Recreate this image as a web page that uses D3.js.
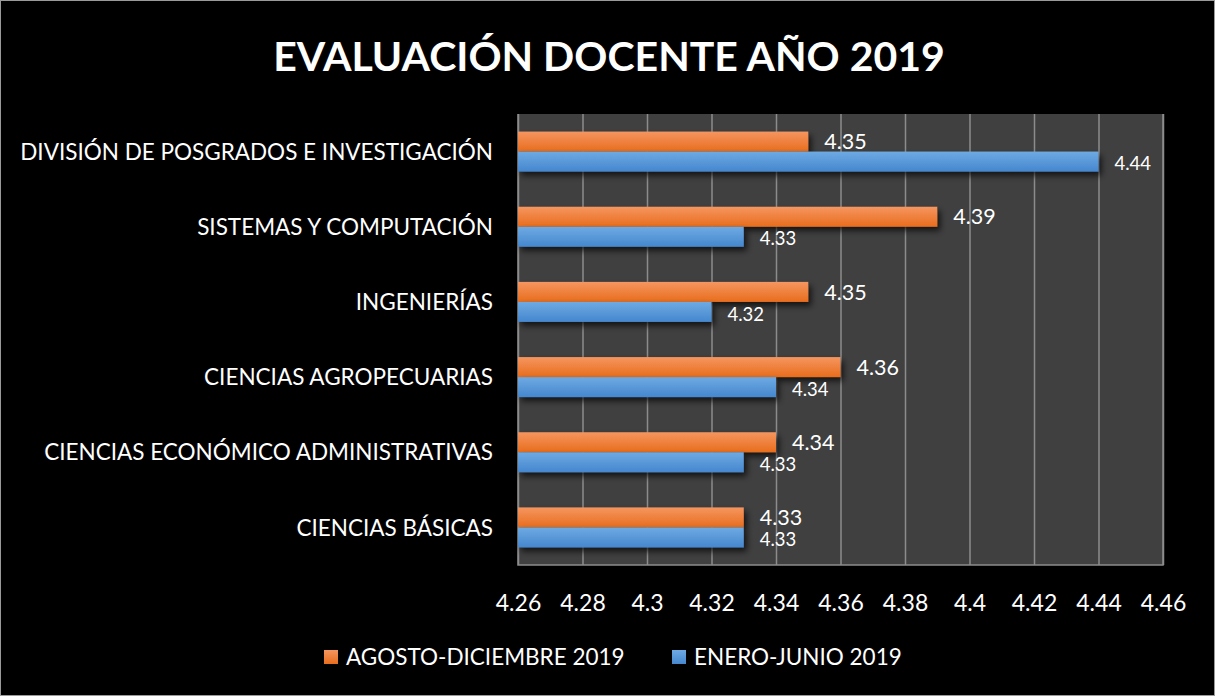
<!DOCTYPE html>
<html>
<head>
<meta charset="utf-8">
<script src="https://cdn.jsdelivr.net/npm/d3@7"></script>
<style>
  html, body { margin: 0; padding: 0; background: #000; }
  svg { display: block; }
  text { font-family: Lato, "Open Sans", sans-serif; fill: #fff; }
</style>
</head>
<body>
<svg id="chart" width="1215" height="696"></svg>
<script>
// ---- data ----
const categories = [
  "DIVISIÓN DE POSGRADOS E INVESTIGACIÓN",
  "SISTEMAS Y COMPUTACIÓN",
  "INGENIERÍAS",
  "CIENCIAS AGROPECUARIAS",
  "CIENCIAS ECONÓMICO ADMINISTRATIVAS",
  "CIENCIAS BÁSICAS"
];
const seriesNames = ["AGOSTO-DICIEMBRE 2019", "ENERO-JUNIO 2019"];
const agostoDiciembre = [4.35, 4.39, 4.35, 4.36, 4.34, 4.33];
const eneroJunio = [4.44, 4.33, 4.32, 4.34, 4.33, 4.33];
const xTicks = [4.26, 4.28, 4.30, 4.32, 4.34, 4.36, 4.38, 4.40, 4.42, 4.44, 4.46];
const title = "EVALUACIÓN DOCENTE AÑO 2019";

// ---- layout ----
const W = 1215, H = 696;
const plot = { left: 518, right: 1163, top: 114, bottom: 565 };

const svg = d3.select("#chart");
const defs = svg.append("defs");

function grad(id, top, bottom) {
  const g = defs.append("linearGradient").attr("id", id)
    .attr("x1", 0).attr("y1", 0).attr("x2", 0).attr("y2", 1);
  g.append("stop").attr("offset", "0%").attr("stop-color", top);
  g.append("stop").attr("offset", "100%").attr("stop-color", bottom);
}
grad("gOrange", "#f59660", "#e86d1c");
grad("gBlue", "#6eaae3", "#4587ce");

const f = defs.append("filter").attr("id", "shadow")
  .attr("x", "-5%").attr("y", "-30%").attr("width", "115%").attr("height", "190%");
f.append("feDropShadow").attr("dx", 3).attr("dy", 4).attr("stdDeviation", 3)
  .attr("flood-color", "#000").attr("flood-opacity", 0.7);

svg.append("rect").attr("x", 0.5).attr("y", 0.5).attr("width", W - 1).attr("height", H - 1)
  .attr("fill", "#000").attr("stroke", "#9a9a9a").attr("stroke-width", 1);

// title
svg.append("text").attr("x", 609).attr("y", 71).attr("text-anchor", "middle")
  .style("font-size", "41px").style("font-weight", "bold").text(title);

const x = d3.scaleLinear().domain([4.26, 4.46]).range([plot.left, plot.right]);
const y = d3.scaleBand().domain(categories).range([plot.top, plot.bottom])
  .paddingInner(0.468).paddingOuter(0.234);
const sub = d3.scaleBand().domain(seriesNames).range([0, y.bandwidth()]);

// plot background
svg.append("rect").attr("x", plot.left).attr("y", plot.top)
  .attr("width", plot.right - plot.left).attr("height", plot.bottom - plot.top)
  .attr("fill", "#404040");

// grid
const gridG = svg.append("g").attr("transform", `translate(0,${plot.bottom})`)
  .call(d3.axisBottom(x).tickValues(xTicks).tickSize(-(plot.bottom - plot.top)).tickFormat(""));
gridG.select(".domain").remove();
gridG.selectAll(".tick line").attr("stroke", "#8c8c8c").attr("stroke-width", 1.5);

// plot border (left, bottom, right)
svg.append("path")
  .attr("d", `M${plot.left},${plot.top}V${plot.bottom}H${plot.right}V${plot.top}`)
  .attr("fill", "none").attr("stroke", "#8c8c8c").attr("stroke-width", 1.5);

// tick labels
const axisG = svg.append("g").attr("transform", `translate(0,${plot.bottom})`)
  .call(d3.axisBottom(x).tickValues(xTicks).tickSize(0).tickPadding(0).tickFormat(d3.format("")));
axisG.select(".domain").remove();
axisG.selectAll(".tick text").attr("y", 46).attr("dy", null)
  .style("font-size", "23px").attr("fill", "#fff");

// category labels
const catG = svg.append("g").attr("transform", `translate(${plot.left},0)`)
  .call(d3.axisLeft(y).tickSize(0).tickPadding(25));
catG.select(".domain").remove();
catG.selectAll(".tick text").style("font-size", "22.5px").attr("fill", "#fff").attr("dy", "0.36em");

// bars
const series = [
  { name: seriesNames[0], values: agostoDiciembre, fill: "url(#gOrange)", labelSize: 21.5, off: 0 },
  { name: seriesNames[1], values: eneroJunio, fill: "url(#gBlue)", labelSize: 18.5, off: 2 }
];

series.forEach(s => {
  const g = svg.append("g");
  g.selectAll("rect").data(s.values).join("rect")
    .attr("x", x(4.26))
    .attr("y", (d, i) => y(categories[i]) + sub(s.name))
    .attr("width", d => x(d) - x(4.26))
    .attr("height", sub.bandwidth())
    .attr("fill", s.fill)
    .attr("filter", "url(#shadow)");
});
series.forEach(s => {
  svg.append("g").selectAll("text").data(s.values).join("text")
    .attr("x", d => x(d) + 16)
    .attr("y", (d, i) => y(categories[i]) + sub(s.name) + sub.bandwidth() / 2 + s.off)
    .attr("dy", "0.36em")
    .style("font-size", s.labelSize + "px")
    .text(d => d3.format(".2f")(d));
});

// legend
const legend = [
  { name: seriesNames[0], fill: "url(#gOrange)", x: 324 },
  { name: seriesNames[1], fill: "url(#gBlue)", x: 672 }
];
const lg = svg.append("g");
legend.forEach(l => {
  lg.append("rect").attr("x", l.x).attr("y", 650).attr("width", 14).attr("height", 14).attr("fill", l.fill);
  lg.append("text").attr("x", l.x + 22).attr("y", 657).attr("dy", "0.36em")
    .style("font-size", "22.5px").text(l.name);
});
</script>
</body>
</html>
